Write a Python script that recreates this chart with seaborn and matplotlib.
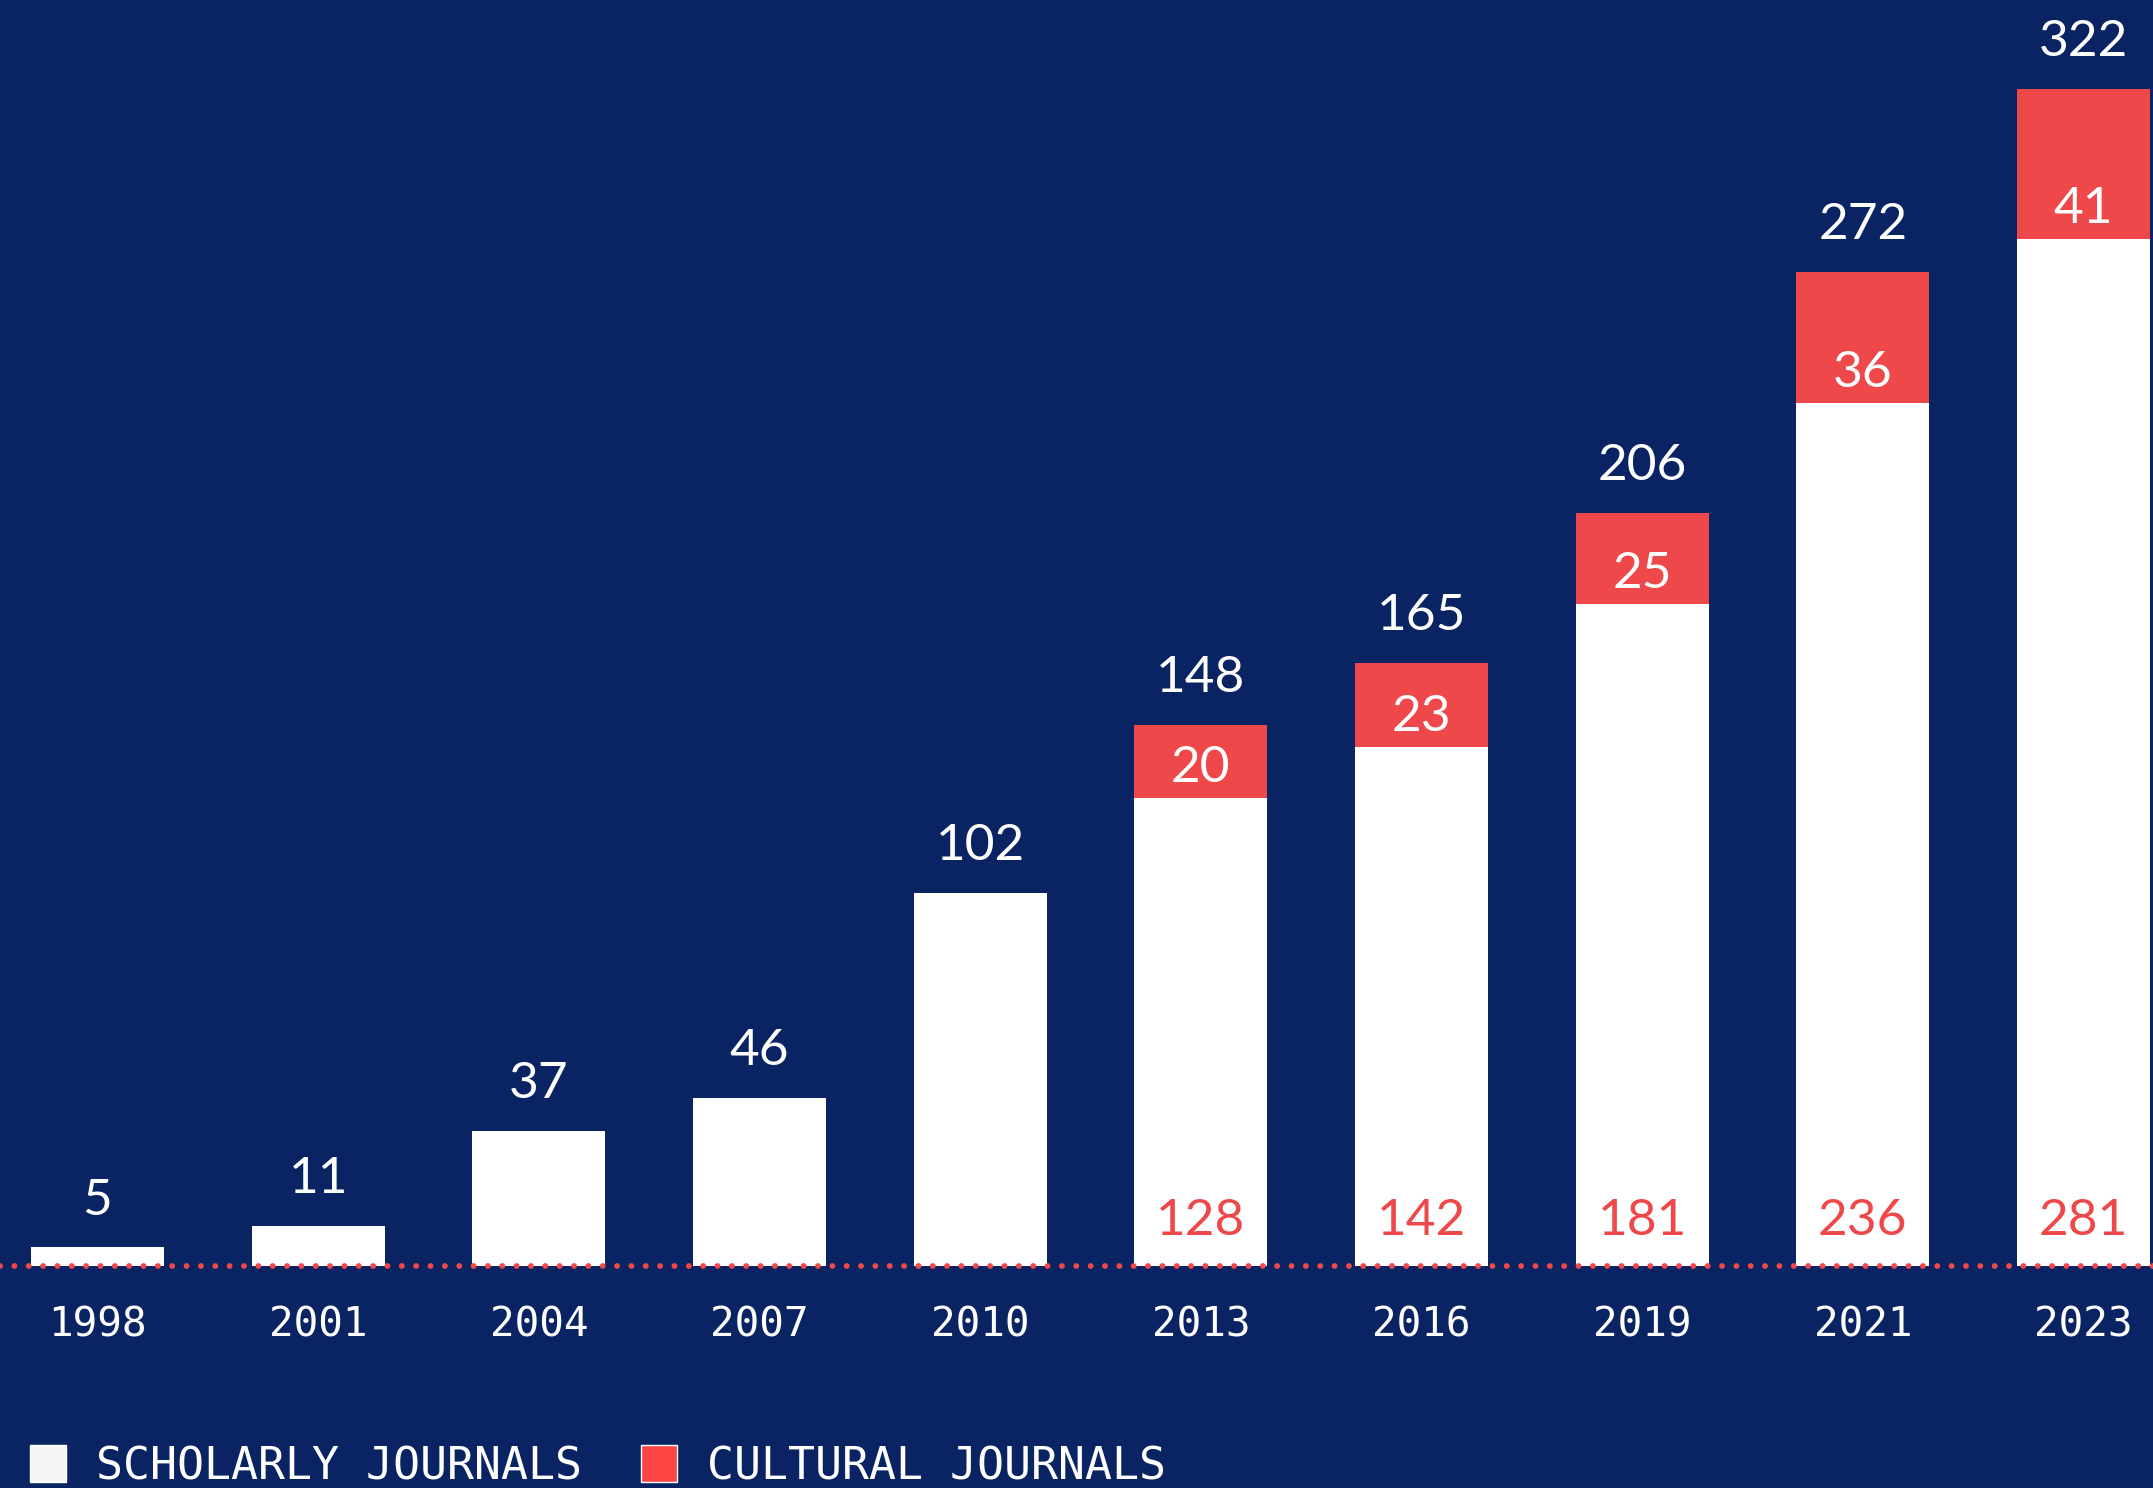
import numpy as np
import pandas as pd
import matplotlib
matplotlib.use('Agg')
import matplotlib.pyplot as plt
import seaborn as sns
from matplotlib.patches import Patch

# Dữ liệu
years = ['1998', '2001', '2004', '2007', '2010', '2013', '2016', '2019', '2021', '2023']
scholarly = [5, 11, 37, 46, 102, 128, 142, 181, 236, 281]
cultural = [0, 0, 0, 0, 0, 20, 23, 25, 36, 41]

NAVY = '#0A2362'
RED = '#EF484A'
WHITE = '#FFFFFF'
VALUE_FONT = ['Lato', 'DejaVu Sans']
MONO_FONT = ['DejaVu Sans Mono']

df = pd.DataFrame({'year': years, 'scholarly': scholarly, 'cultural': cultural})
df['total'] = df['scholarly'] + df['cultural']

sns.set_theme(style='white')
plt.rcParams['font.family'] = ['DejaVu Sans']

fig = plt.figure(figsize=(21.53, 14.88), dpi=100, facecolor=NAVY)
ax = fig.add_axes([0, 0.1494, 1, 0.8506])
ax.set_facecolor(NAVY)

# Cột tổng (đỏ) rồi phủ cột học thuật (trắng)
sns.barplot(data=df, x='year', y='total', color=RED, saturation=1, width=0.604,
            errorbar=None, linewidth=0, ax=ax)
sns.barplot(data=df, x='year', y='scholarly', color=WHITE, saturation=1, width=0.604,
            errorbar=None, linewidth=0, ax=ax)

ax.set_xlim(-0.442, 9.315)
ax.set_ylim(0, 346.4)

# Đường cơ sở chấm đỏ
ax.axhline(0, color=RED, lw=4.2, linestyle=(0, (0.01, 2.45)), dash_capstyle='round',
           zorder=5, clip_on=False)

for i, row in df.iterrows():
    ax.annotate(str(row['total']), (i, row['total']), xytext=(0, 33.6),
                textcoords='offset points', ha='center', va='center',
                fontsize=37, color=WHITE, family=VALUE_FONT)
    if row['cultural'] > 0:
        ax.annotate(str(row['cultural']), (i, row['scholarly']), xytext=(0, 21.8),
                    textcoords='offset points', ha='center', va='center',
                    fontsize=37, color=WHITE, family=VALUE_FONT)
        ax.annotate(str(row['scholarly']), (i, 0), xytext=(0, 32.3),
                    textcoords='offset points', ha='center', va='center',
                    fontsize=37, color=RED, family=VALUE_FONT)

for s in ax.spines.values():
    s.set_visible(False)
ax.set_xlabel('')
ax.set_ylabel('')
ax.set_yticks([])
ax.tick_params(axis='x', length=0, pad=29, labelsize=29.5, labelcolor=WHITE)
for lab in ax.get_xticklabels():
    lab.set_family(MONO_FONT)

handles = [Patch(facecolor='#F5F5F5', label='SCHOLARLY JOURNALS'),
           Patch(facecolor='#FF4444', label='CULTURAL JOURNALS')]
fig.legend(handles=handles, loc='lower left', bbox_to_anchor=(30 / 2153, 0),
           ncol=2, frameon=False, prop={'family': MONO_FONT, 'size': 32.3},
           handlelength=0.8, handleheight=0.9, handletextpad=0.68, columnspacing=1.3,
           borderpad=0, borderaxespad=0, labelcolor=WHITE)

fig.savefig('out.png', dpi=100, facecolor=NAVY)
